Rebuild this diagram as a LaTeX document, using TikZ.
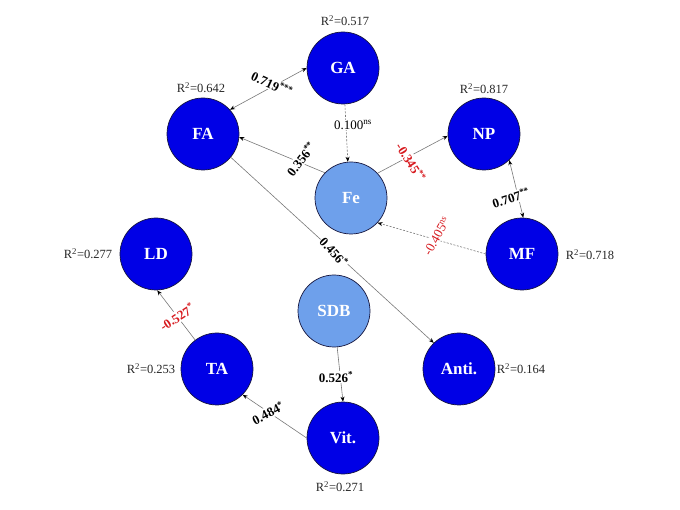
\documentclass[tikz,border=0pt]{standalone}
\usepackage{fontspec}
\setmainfont{Liberation Serif}
\usetikzlibrary{arrows.meta}
\definecolor{nodedark}{RGB}{0,0,230}
\definecolor{nodelight}{RGB}{110,160,235}
\definecolor{linegray}{RGB}{120,120,120}
\definecolor{labred}{RGB}{215,25,30}
\definecolor{rimcol}{RGB}{20,20,60}
\begin{document}
\begin{tikzpicture}[x=1pt,y=-1pt,
  latent/.style={circle,draw=rimcol,line width=0.7pt,minimum size=72pt,inner sep=0pt,text=white,font=\fontsize{17}{17}\selectfont\bfseries},
  dark/.style={latent,fill=nodedark},
  light/.style={latent,fill=nodelight},
  rsq/.style={font=\fontsize{12.5}{13}\selectfont,text=black!85,inner sep=0pt},
  tip/.tip={Stealth[length=5pt,width=4pt,black]},
  pathline/.style={draw=linegray,line width=0.6pt,-tip},
  bipath/.style={pathline,tip-tip},
  nsline/.style={pathline,dash pattern=on 2pt off 1.5pt},
  coef/.style={fill=white,inner sep=1pt,font=\fontsize{13}{13}\selectfont\bfseries},
  coefn/.style={fill=white,inner sep=1pt,font=\fontsize{13}{13}\selectfont},
  neg/.style={text=labred}]
\path[use as bounding box] (0,0) rectangle (680,510);

% latent variables
\node[dark]  (GA)   at (343,68)  {GA};
\node[dark]  (FA)   at (203,134) {FA};
\node[light] (Fe)   at (351,198) {Fe};
\node[dark]  (NP)   at (484,134) {NP};
\node[dark]  (MF)   at (522,254) {MF};
\node[dark]  (LD)   at (156,254) {LD};
\node[light] (SDB)  at (334,311) {SDB};
\node[dark]  (TA)   at (217,369) {TA};
\node[dark]  (Anti) at (459,369) {Anti.};
\node[dark]  (Vit)  at (343,438) {Vit.};

% R-squared labels
\node[rsq] (rGA)   at (345,21)  {R\textsuperscript{2}=0.517};
\node[rsq] (rFA)   at (201,88)  {R\textsuperscript{2}=0.642};
\node[rsq] (rNP)   at (484,89)  {R\textsuperscript{2}=0.817};
\node[rsq] (rMF)   at (590,255) {R\textsuperscript{2}=0.718};
\node[rsq] (rLD)   at (88,254)  {R\textsuperscript{2}=0.277};
\node[rsq] (rTA)   at (151,369) {R\textsuperscript{2}=0.253};
\node[rsq] (rAnti) at (521,369) {R\textsuperscript{2}=0.164};
\node[rsq] (rVit)  at (340,487) {R\textsuperscript{2}=0.271};

% paths
\draw[bipath] (FA.42) -- (GA.180);
\draw[nsline] (GA.-87) -- (Fe.95);
\draw[pathline] (Fe.136) -- (FA.-5);
\draw[pathline] (Fe.43) -- (NP.183);
\draw[bipath] (NP.-46) -- (MF.88);
\draw[nsline] (MF.180) -- (Fe.-43);
\draw[pathline] (FA.-40) -- (Anti.134);
\draw[pathline] (TA.127) -- (LD.-88);
\draw[pathline] (SDB.-85) -- (Vit.90);
\draw[pathline] (Vit.180) -- (TA.-45);

% coefficients
\node[coef,rotate=-25] (c1) at (272,84) {0.719\textsuperscript{***}};
\node[coefn] (c2) at (353,125) {0.100\textsuperscript{ns}};
\node[coef,rotate=52] (c3) at (301,159) {0.356\textsuperscript{**}};
\node[coef,neg,rotate=-58] (c4) at (411,162) {-0.345\textsuperscript{**}};
\node[coef,rotate=18] (c5) at (511,198) {0.707\textsuperscript{**}};
\node[coefn,neg,rotate=61] (c6) at (437,236) {-0.405\textsuperscript{ns}};
\node[coef,rotate=-48] (c7) at (334,252) {0.456\textsuperscript{*}};
\node[coef,neg,rotate=33] (c8) at (177,317) {-0.527\textsuperscript{*}};
\node[coef] (c9) at (336,377) {0.526\textsuperscript{*}};
\node[coef,rotate=27] (c10) at (268,413) {0.484\textsuperscript{*}};
\end{tikzpicture}
\end{document}
